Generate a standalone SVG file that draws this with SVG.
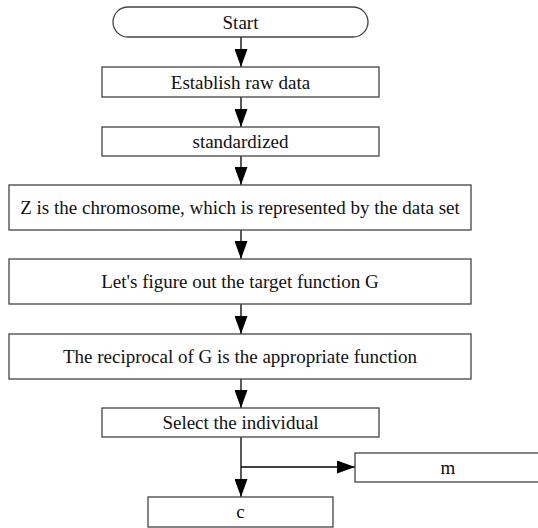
<svg xmlns="http://www.w3.org/2000/svg" width="538" height="528" viewBox="0 0 538 528">
  <style>
    .box { fill: #ffffff; stroke: #444444; stroke-width: 1.3; }
    .lbl { font-family: "Liberation Serif", "Times New Roman", serif; font-size: 19px; fill: #111111; text-anchor: middle; }
    .edge { stroke: #000000; stroke-width: 1.3; fill: none; }
  </style>
  <defs>
    <marker id="arrow" markerWidth="18" markerHeight="13" refX="18" refY="6.5" orient="auto" markerUnits="userSpaceOnUse">
      <path d="M0,0 L18,6.5 L0,13 Z" fill="#000000"/>
    </marker>
  </defs>
  <rect width="538" height="528" fill="#ffffff"/>

  <g id="connectors">
    <line class="edge" x1="241" y1="37" x2="241" y2="67" marker-end="url(#arrow)"/>
    <line class="edge" x1="241" y1="97" x2="241" y2="127" marker-end="url(#arrow)"/>
    <line class="edge" x1="241" y1="156" x2="241" y2="185" marker-end="url(#arrow)"/>
    <line class="edge" x1="241" y1="230" x2="241" y2="259" marker-end="url(#arrow)"/>
    <line class="edge" x1="241" y1="304" x2="241" y2="334" marker-end="url(#arrow)"/>
    <line class="edge" x1="241" y1="379" x2="241" y2="408" marker-end="url(#arrow)"/>
    <line class="edge" x1="241" y1="437" x2="241" y2="497" marker-end="url(#arrow)"/>
    <line class="edge" x1="241" y1="467" x2="355" y2="467" marker-end="url(#arrow)"/>
  </g>

  <g id="start">
    <rect class="box" x="113" y="7" width="255" height="30" rx="15" ry="15"/>
    <text class="lbl" x="240.5" y="28.5">Start</text>
  </g>
  <g id="raw-data">
    <rect class="box" x="102" y="67" width="277" height="30"/>
    <text class="lbl" x="240.5" y="88.5">Establish raw data</text>
  </g>
  <g id="standardized">
    <rect class="box" x="102" y="127" width="277" height="29"/>
    <text class="lbl" x="240.5" y="148">standardized</text>
  </g>
  <g id="chromosome">
    <rect class="box" x="9" y="185" width="462" height="45"/>
    <text class="lbl" x="240" y="214">Z is the chromosome, which is represented by the data set</text>
  </g>
  <g id="target-function">
    <rect class="box" x="9" y="259" width="462" height="45"/>
    <text class="lbl" x="240" y="288">Let's figure out the target function G</text>
  </g>
  <g id="fitness">
    <rect class="box" x="9" y="334" width="462" height="45"/>
    <text class="lbl" x="240" y="363">The reciprocal of G is the appropriate function</text>
  </g>
  <g id="select">
    <rect class="box" x="102" y="408" width="277" height="29"/>
    <text class="lbl" x="240.5" y="429">Select the individual</text>
  </g>
  <g id="m">
    <rect class="box" x="355" y="453" width="190" height="29"/>
    <text class="lbl" x="448" y="474">m</text>
  </g>
  <g id="c">
    <rect class="box" x="148" y="497" width="185" height="30"/>
    <text class="lbl" x="240.5" y="518">c</text>
  </g>
</svg>
